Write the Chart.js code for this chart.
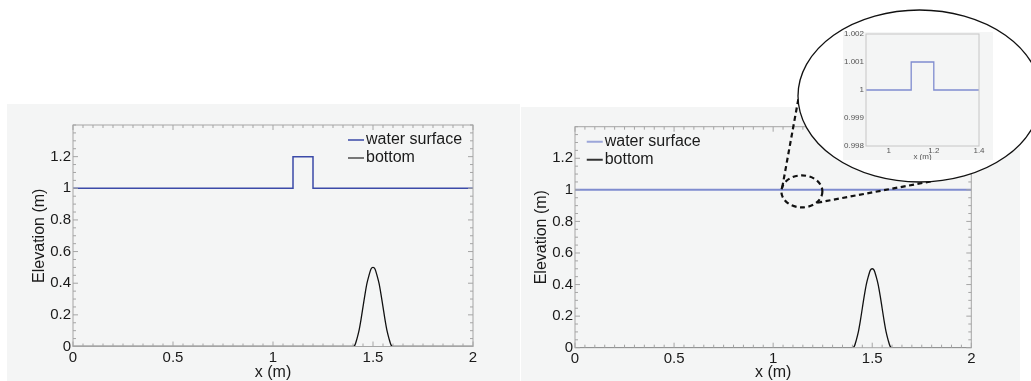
<!DOCTYPE html>
<html>
<head>
<meta charset="utf-8">
<script src="https://cdn.jsdelivr.net/npm/chart.js@4.4.1/dist/chart.umd.min.js"></script>
<style>
  html, body { margin: 0; padding: 0; background: #fff; }
  body { width: 1031px; height: 381px; position: relative; overflow: hidden; }
  canvas { position: absolute; }
  #left { left: 7px; top: 104px; background: #f4f5f5; }
  #right { left: 520px; top: 0; }
  #inset { left: 843px; top: 27px; }
</style>
</head>
<body>
<canvas id="left" width="513" height="277"></canvas>
<canvas id="right" width="511" height="381"></canvas>
<canvas id="inset" width="150" height="133"></canvas>
<script>
// tick labels
const xTicks = [0, 0.5, 1, 1.5, 2];
const yTicks = [0, 0.2, 0.4, 0.6, 0.8, 1, 1.2];
const insetXTicks = [1, 1.2, 1.4];
const insetYTicks = [0.998, 0.999, 1, 1.001, 1.002];

// water surface, left panel (0.2 m hump)
const waterX1 = [0, 1.1, 1.1, 1.2, 1.2, 2];
const waterY1 = [1, 1, 1.2, 1.2, 1, 1];
// water surface, right panel (0.001 m hump, only visible in the zoom)
const waterX2 = [0, 1.1, 1.1, 1.2, 1.2, 2];
const waterY2 = [1, 1, 1.001, 1.001, 1, 1];
// bottom bump
const bottomX = [0, 1.4, 1.41, 1.42, 1.43, 1.44, 1.45, 1.46, 1.47, 1.48, 1.49, 1.5,
                 1.51, 1.52, 1.53, 1.54, 1.55, 1.56, 1.57, 1.58, 1.59, 1.6, 2];
const bottomY = [0, 0, 0.01, 0.05, 0.10, 0.17, 0.25, 0.33, 0.40, 0.45, 0.49, 0.5,
                 0.49, 0.45, 0.40, 0.33, 0.25, 0.17, 0.10, 0.05, 0.01, 0, 0];

const zoomCenter = [1.145, 0.99];

Chart.defaults.font.family = '"Liberation Sans", Arial, sans-serif';
Chart.defaults.color = '#1a1a1a';
Chart.defaults.animation = false;

const pts = (xs, ys) => xs.map((v, i) => ({ x: v, y: ys[i] }));
const tickList = list => scale => { scale.ticks = list.map(v => ({ value: v })); };

// legend sample: a short line sitting right against the text
function swatch(color, width) {
  const c = document.createElement('canvas');
  c.width = 34; c.height = 4;
  const g = c.getContext('2d');
  g.fillStyle = color;
  g.fillRect(12, 2 - width / 2, 16, width);
  return c;
}

const panelBg = {
  id: 'panelBg',
  beforeDraw(chart, args, o) {
    const ctx = chart.ctx;
    ctx.save();
    ctx.fillStyle = o.color;
    ctx.fillRect(o.x, o.y, o.w, o.h);
    ctx.restore();
  }
};

const legendShift = {
  id: 'legendShift',
  beforeDraw(chart, args, o) {
    chart.legend.left = chart.chartArea.left + o.dx;
    chart.legend.top = chart.chartArea.top + o.dy;
  }
};

// box round the axes with inward ticks on all four sides
const frameTicks = {
  id: 'frameTicks',
  afterDatasetsDraw(chart, args, o) {
    const { ctx, chartArea: a } = chart;
    const { x, y } = chart.scales;
    ctx.save();
    ctx.strokeStyle = o.color;
    ctx.lineWidth = 1;
    ctx.strokeRect(a.left, a.top, a.right - a.left, a.bottom - a.top);
    ctx.beginPath();
    const mark = (scale, step, horizontal) => {
      if (!step) return;
      const majors = scale.ticks.map(t => t.value);
      const n = Math.round((scale.max - scale.min) / step);
      for (let i = 0; i <= n; i++) {
        const v = scale.min + i * step;
        const len = majors.some(m => Math.abs(m - v) < step / 10) ? o.major : o.minor;
        const p = scale.getPixelForValue(v);
        if (horizontal) {
          ctx.moveTo(p, a.bottom); ctx.lineTo(p, a.bottom - len);
          ctx.moveTo(p, a.top); ctx.lineTo(p, a.top + len);
        } else {
          ctx.moveTo(a.left, p); ctx.lineTo(a.left + len, p);
          ctx.moveTo(a.right, p); ctx.lineTo(a.right - len, p);
        }
      }
    };
    mark(x, o.xStep, true);
    mark(y, o.yStep, false);
    ctx.stroke();
    ctx.restore();
  }
};

// dashed ring round the hump, leader lines and the white magnifier bubble
const magnifier = {
  id: 'magnifier',
  afterDraw(chart) {
    const { ctx } = chart;
    const { x, y } = chart.scales;
    const cx = x.getPixelForValue(zoomCenter[0]);
    const cy = y.getPixelForValue(zoomCenter[1]);
    ctx.save();
    ctx.strokeStyle = '#111';
    ctx.lineWidth = 2.2;
    ctx.setLineDash([5, 3.5]);
    ctx.beginPath();
    ctx.ellipse(cx, cy, 20.5, 16, 0, 0, Math.PI * 2);
    ctx.stroke();
    ctx.beginPath();
    ctx.moveTo(cx - 19.7, cy - 3.7); ctx.lineTo(280, 90);
    ctx.moveTo(cx + 15.3, cy + 11.3); ctx.lineTo(413, 181);
    ctx.stroke();
    ctx.setLineDash([]);
    ctx.beginPath();
    ctx.ellipse(399.5, 96, 121.5, 86, 0, 0, Math.PI * 2);
    ctx.fillStyle = '#fff';
    ctx.fill();
    ctx.lineWidth = 1.3;
    ctx.stroke();
    ctx.restore();
  }
};

function mainConfig(p) {
  return {
    type: 'line',
    data: {
      datasets: [
        {
          label: 'water surface',
          data: pts(p.waterX, p.waterY),
          borderColor: p.waterColor,
          borderWidth: p.waterWidth,
          pointRadius: 0,
          pointStyle: swatch(p.waterColor, 1.5),
          tension: 0
        },
        {
          label: 'bottom',
          data: pts(bottomX, bottomY),
          borderColor: '#111',
          borderWidth: 1.3,
          pointRadius: 0,
          pointStyle: swatch(p.bottomLegend, 2),
          cubicInterpolationMode: 'monotone',
          clip: 0
        }
      ]
    },
    options: {
      responsive: false,
      events: [],
      layout: { padding: p.pad },
      plugins: {
        legend: {
          position: 'chartArea',
          align: 'start',
          labels: {
            usePointStyle: true,
            pointStyleWidth: 10,
            padding: 2,
            color: '#1a1a1a',
            font: { size: 16 }
          }
        },
        tooltip: { enabled: false },
        legendShift: p.legendAt,
        panelBg: p.bg || { color: 'transparent', x: 0, y: 0, w: 0, h: 0 },
        frameTicks: { color: '#a5a5a5', major: 5, minor: 3, xStep: 0.05, yStep: 0.05 }
      },
      scales: {
        x: {
          type: 'linear', min: 0, max: 2,
          afterBuildTicks: tickList(xTicks),
          afterFit: s => { s.height = p.xAxisH; },
          grid: { display: false, drawTicks: false },
          border: { display: false },
          ticks: { padding: 2, font: { size: 15 }, callback: v => String(v) },
          title: { display: true, text: 'x (m)', font: { size: 16, lineHeight: 1 }, padding: { top: 0, bottom: 0.5 } }
        },
        y: {
          type: 'linear', min: 0, max: 1.4,
          afterBuildTicks: tickList(yTicks),
          afterFit: s => { s.width = 42; },
          grid: { display: false, drawTicks: false },
          border: { display: false },
          ticks: { padding: 2, font: { size: 15 }, callback: v => String(v) },
          title: { display: true, text: 'Elevation (m)', font: { size: 16, lineHeight: 1 }, padding: { top: 0.5, bottom: 0 } }
        }
      }
    },
    plugins: p.plugins
  };
}

new Chart(document.getElementById('left'), mainConfig({
  waterX: waterX1, waterY: waterY1,
  waterColor: '#3b4aa8', waterWidth: 1.5, bottomLegend: '#777',
  pad: { left: 24, top: 21, right: 47, bottom: 0 },
  xAxisH: 34.5,
  legendAt: { dx: 273, dy: 5 },
  plugins: [legendShift, frameTicks]
}));

new Chart(document.getElementById('right'), mainConfig({
  waterX: waterX2, waterY: waterY2,
  waterColor: '#7f8ccf', waterWidth: 2, bottomLegend: '#333',
  pad: { left: 13, top: 126.7, right: 59.7, bottom: 0 },
  xAxisH: 33.3,
  legendAt: { dx: 9.7, dy: 5 },
  bg: { color: '#f4f5f5', x: 1, y: 107, w: 499, h: 274 },
  plugins: [panelBg, legendShift, frameTicks, magnifier]
}));

new Chart(document.getElementById('inset'), {
  type: 'line',
  data: {
    datasets: [{
      label: 'water surface',
      data: pts(waterX2, waterY2),
      borderColor: '#7f8ccf',
      borderWidth: 1.3,
      pointRadius: 0,
      tension: 0
    }]
  },
  options: {
    responsive: false,
    events: [],
    layout: { padding: { left: 0, top: 7, right: 14, bottom: 0 } },
    plugins: {
      legend: { display: false },
      tooltip: { enabled: false },
      panelBg: { color: '#f4f5f5', x: 0, y: 5, w: 150, h: 128 },
      frameTicks: { color: '#c6c6c6', major: 2, minor: 0, xStep: 0, yStep: 0 }
    },
    scales: {
      x: {
        type: 'linear', min: 0.9, max: 1.4,
        afterBuildTicks: tickList(insetXTicks),
        afterFit: s => { s.height = 14; },
        grid: { display: false, drawTicks: false },
        border: { display: false },
        ticks: { padding: 0, color: '#555', font: { size: 8 }, callback: v => String(v) },
        title: { display: true, text: 'x (m)', color: '#555', font: { size: 8, lineHeight: 1 }, padding: { top: 0, bottom: -1 } }
      },
      y: {
        type: 'linear', min: 0.998, max: 1.002,
        afterBuildTicks: tickList(insetYTicks),
        afterFit: s => { s.width = 23; },
        grid: { display: false, drawTicks: false },
        border: { display: false },
        ticks: { padding: 2, color: '#555', font: { size: 8 }, callback: v => String(v) }
      }
    }
  },
  plugins: [panelBg, frameTicks]
});
</script>
</body>
</html>
